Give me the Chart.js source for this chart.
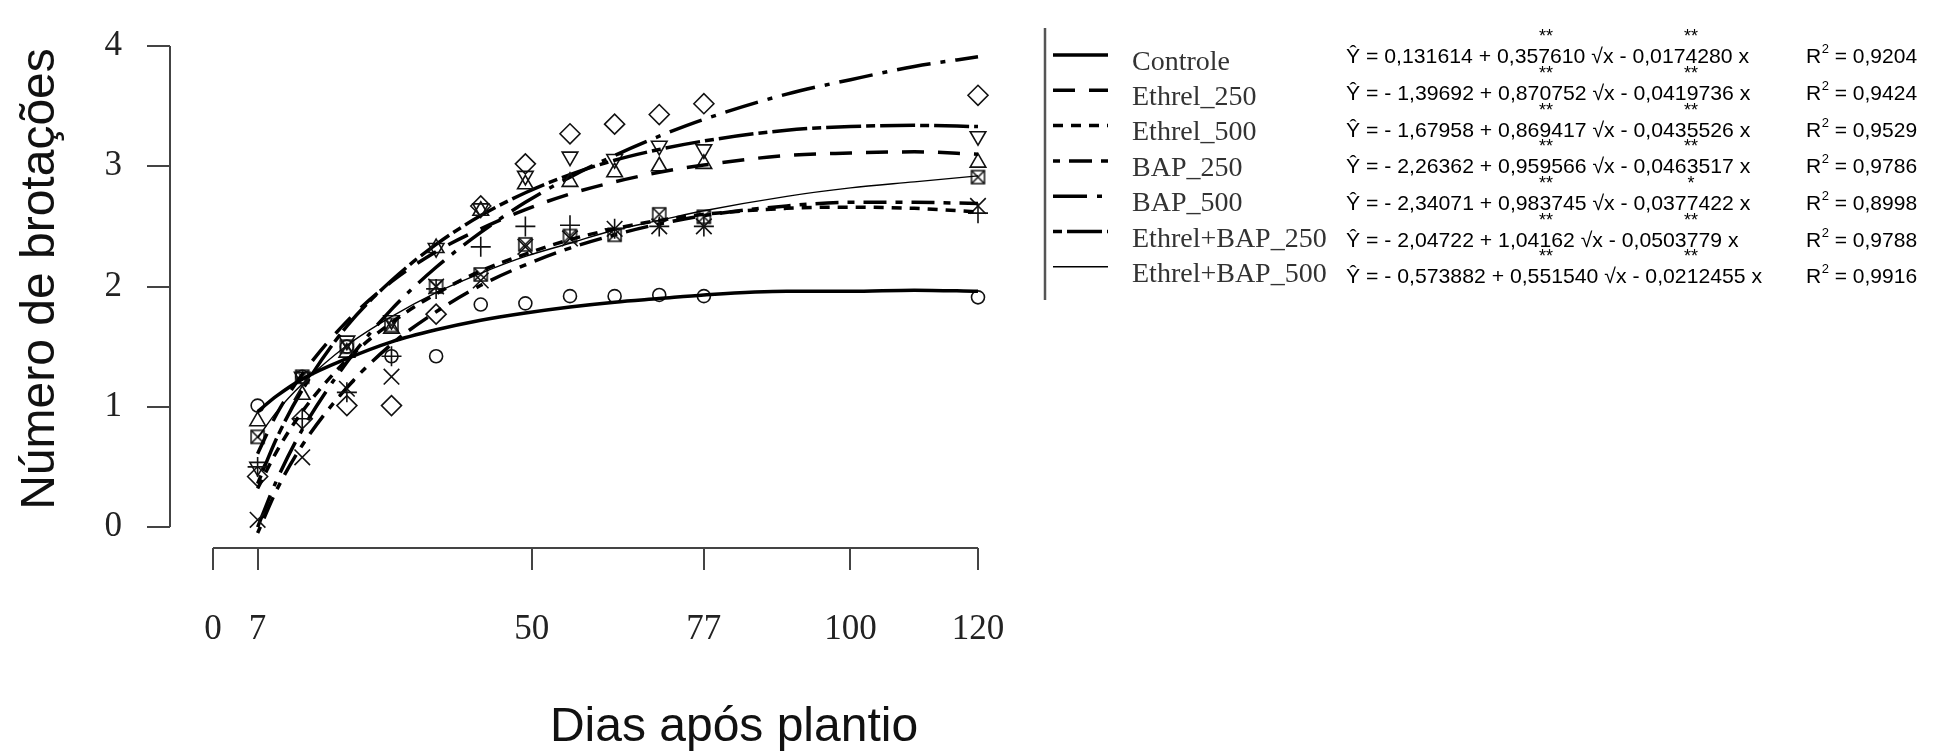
<!DOCTYPE html>
<html>
<head>
<meta charset="utf-8">
<title>Número de brotações</title>
<script src="https://cdn.jsdelivr.net/npm/chart.js@4.4.1/dist/chart.umd.min.js"></script>
<style>
  html, body { margin: 0; padding: 0; background: #fff; }
  canvas { display: block; }
</style>
</head>
<body>
<canvas id="chart" width="1939" height="755"></canvas>
<script>
const days = [7, 14, 21, 28, 35, 42, 49, 56, 63, 70, 77, 120];
const controle = [1.01, 1.25, 1.50, 1.42, 1.42, 1.85, 1.86, 1.92, 1.92, 1.93, 1.92, 1.91];
const ethrel250 = [0.88, 1.10, 1.45, 1.65, 2.32, 2.63, 2.85, 2.87, 2.95, 3.00, 3.02, 3.03];
const ethrel500 = [0.50, 0.90, 1.12, 1.42, 1.98, 2.33, 2.50, 2.51, 2.48, 2.50, 2.50, 2.61];
const bap250 = [0.06, 0.58, 1.15, 1.25, 2.00, 2.05, 2.33, 2.40, 2.48, 2.50, 2.50, 2.67];
const bap500 = [0.42, 0.90, 1.01, 1.01, 1.77, 2.67, 3.02, 3.27, 3.35, 3.43, 3.52, 3.59];
const ethrelBap250 = [0.50, 1.25, 1.55, 1.72, 2.32, 2.65, 2.92, 3.08, 3.06, 3.17, 3.14, 3.25];
const ethrelBap500 = [0.75, 1.25, 1.50, 1.68, 2.00, 2.10, 2.35, 2.42, 2.43, 2.60, 2.58, 2.91];

// fitted curves
const fitDays = [7, 10, 14, 21, 28, 35, 42, 49, 56, 63, 70, 77, 90, 100, 110, 120];
const fitControle = [0.96, 1.09, 1.23, 1.40, 1.54, 1.64, 1.72, 1.78, 1.83, 1.87, 1.90, 1.93, 1.96, 1.96, 1.97, 1.96];
const fitEthrel250 = [0.61, 0.94, 1.27, 1.71, 2.04, 2.29, 2.48, 2.64, 2.77, 2.87, 2.95, 3.01, 3.09, 3.11, 3.12, 3.10];
const fitEthrel500 = [0.32, 0.63, 0.96, 1.39, 1.70, 1.94, 2.13, 2.27, 2.39, 2.48, 2.55, 2.60, 2.65, 2.66, 2.65, 2.62];
const fitBap250 = [-0.05, 0.31, 0.68, 1.16, 1.52, 1.79, 2.01, 2.18, 2.32, 2.43, 2.52, 2.59, 2.67, 2.70, 2.70, 2.69];
const fitBap500 = [0.00, 0.39, 0.81, 1.37, 1.81, 2.16, 2.45, 2.70, 2.91, 3.09, 3.25, 3.39, 3.60, 3.72, 3.83, 3.91];
const fitEthrelBap250 = [0.36, 0.74, 1.14, 1.67, 2.05, 2.35, 2.59, 2.78, 2.93, 3.05, 3.14, 3.21, 3.30, 3.33, 3.34, 3.33];
const fitEthrelBap500 = [0.74, 0.96, 1.19, 1.51, 1.75, 1.95, 2.11, 2.25, 2.36, 2.47, 2.55, 2.63, 2.75, 2.82, 2.87, 2.92];

const xTicks = [0, 7, 50, 77, 100, 120];
const yTicks = [0, 1, 2, 3, 4];

const labels = ["Controle", "Ethrel_250", "Ethrel_500", "BAP_250", "BAP_500", "Ethrel+BAP_250", "Ethrel+BAP_500"];
const equations = [
  "Ŷ = 0,131614 + 0,357610 √x - 0,0174280 x",
  "Ŷ = - 1,39692 + 0,870752 √x - 0,0419736 x",
  "Ŷ = - 1,67958 + 0,869417 √x - 0,0435526 x",
  "Ŷ = - 2,26362 + 0,959566 √x - 0,0463517 x",
  "Ŷ = - 2,34071 + 0,983745 √x - 0,0377422 x",
  "Ŷ = - 2,04722 + 1,04162 √x - 0,0503779 x",
  "Ŷ = - 0,573882 + 0,551540 √x - 0,0212455 x"
];
const stars = [["**", "**"], ["**", "**"], ["**", "**"], ["**", "**"], ["**", "*"], ["**", "**"], ["**", "**"]];
const r2 = ["0,9204", "0,9424", "0,9529", "0,9786", "0,8998", "0,9788", "0,9916"];

// square with an x inside (R pch 7)
function boxX(size) {
  const c = document.createElement("canvas");
  c.width = size; c.height = size;
  const g = c.getContext("2d");
  g.strokeStyle = "#111";
  g.lineWidth = 1.5;
  g.strokeRect(2, 2, size - 4, size - 4);
  g.beginPath();
  g.moveTo(2, 2); g.lineTo(size - 2, size - 2);
  g.moveTo(size - 2, 2); g.lineTo(2, size - 2);
  g.stroke();
  return c;
}

const series = [
  { obs: controle, fit: fitControle, dash: [], width: 3.5, point: "circle", radius: 6.5, rot: 0 },
  { obs: ethrel250, fit: fitEthrel250, dash: [22, 14], width: 3.5, point: "triangle", radius: 9, rot: 0 },
  { obs: ethrel500, fit: fitEthrel500, dash: [10, 8], width: 3.5, point: "cross", radius: 10, rot: 0 },
  { obs: bap250, fit: fitBap250, dash: [7, 9, 23, 9], width: 3.5, point: "crossRot", radius: 11, rot: 0 },
  { obs: bap500, fit: fitBap500, dash: [34, 10, 5, 10], width: 3.5, point: "rectRot", radius: 10, rot: 0 },
  { obs: ethrelBap250, fit: fitEthrelBap250, dash: [9, 5, 35, 5], width: 3.5, point: "triangle", radius: 9, rot: 180 },
  { obs: ethrelBap500, fit: fitEthrelBap500, dash: [], width: 1.4, point: boxX(17), radius: 8, rot: 0 }
];

function toXY(xs, ys) {
  return xs.map((x, i) => ({ x: x, y: ys[i] }));
}

const datasets = [];
series.forEach((s, i) => {
  datasets.push({
    label: labels[i],
    data: toXY(fitDays, s.fit),
    showLine: true,
    borderColor: "#000",
    borderWidth: s.width,
    borderDash: s.dash,
    cubicInterpolationMode: "monotone",
    pointRadius: 0,
    pointHoverRadius: 0
  });
  datasets.push({
    label: labels[i] + " obs",
    data: toXY(days, s.obs),
    showLine: false,
    pointStyle: s.point,
    pointRadius: s.radius,
    pointRotation: s.rot,
    pointBorderColor: "#111",
    pointBackgroundColor: "rgba(0,0,0,0)",
    pointBorderWidth: 1.6
  });
});

function drawText(ctx, str, x, y, font, sx, align, color) {
  ctx.save();
  ctx.translate(x, y);
  ctx.scale(sx, 1);
  ctx.font = font;
  ctx.textAlign = align || "left";
  ctx.textBaseline = "alphabetic";
  ctx.fillStyle = color || "#000";
  ctx.fillText(str, 0, 0);
  ctx.restore();
}

const decorations = {
  id: "decorations",
  afterDraw(chart) {
    const ctx = chart.ctx;
    const xs = chart.scales.x;
    const ys = chart.scales.y;
    const area = chart.chartArea;
    ctx.save();

    // detached axis lines
    ctx.strokeStyle = "#444";
    ctx.lineWidth = 2;
    ctx.setLineDash([]);
    ctx.beginPath();
    ctx.moveTo(area.left, ys.getPixelForValue(yTicks[0]));
    ctx.lineTo(area.left, ys.getPixelForValue(yTicks[yTicks.length - 1]));
    ctx.moveTo(xs.getPixelForValue(xTicks[0]), area.bottom);
    ctx.lineTo(xs.getPixelForValue(xTicks[xTicks.length - 1]), area.bottom);
    ctx.stroke();

    // axis titles
    drawText(ctx, "Dias após plantio", 734, 741, "48px 'Liberation Sans', Arial, sans-serif", 1, "center", "#111");
    ctx.save();
    ctx.translate(54, 279);
    ctx.rotate(-Math.PI / 2);
    drawText(ctx, "Número de brotações", 0, 0, "48px 'Liberation Sans', Arial, sans-serif", 1, "center", "#111");
    ctx.restore();

    // legend frame
    ctx.strokeStyle = "#555";
    ctx.lineWidth = 2.5;
    ctx.beginPath();
    ctx.moveTo(1045, 28);
    ctx.lineTo(1045, 300);
    ctx.stroke();

    series.forEach((s, i) => {
      const ly = 55 + i * 35.3;
      ctx.strokeStyle = "#000";
      ctx.lineWidth = s.width;
      ctx.setLineDash(s.dash);
      ctx.beginPath();
      ctx.moveTo(1053, ly);
      ctx.lineTo(1108, ly);
      ctx.stroke();
      ctx.setLineDash([]);

      drawText(ctx, labels[i], 1132, 69.5 + i * 35.4, "28px 'Liberation Serif', 'Times New Roman', serif", 1, "left", "#333");

      const ey = 63.3 + i * 36.67;
      drawText(ctx, equations[i], 1346, ey, "21px 'Liberation Sans', Arial, sans-serif", 1.01, "left", "#000");
      drawText(ctx, stars[i][0], 1546, ey - 21, "18px 'Liberation Sans', Arial, sans-serif", 1, "center", "#000");
      drawText(ctx, stars[i][1], 1691, ey - 21, "18px 'Liberation Sans', Arial, sans-serif", 1, "center", "#000");

      // R² = value
      ctx.font = "21px 'Liberation Sans', Arial, sans-serif";
      const rx = 1806;
      const rw = ctx.measureText("R").width;
      drawText(ctx, "R", rx, ey, "21px 'Liberation Sans', Arial, sans-serif", 1, "left", "#000");
      drawText(ctx, "2", rx + rw + 0.5, ey - 10, "13px 'Liberation Sans', Arial, sans-serif", 1, "left", "#000");
      ctx.font = "13px 'Liberation Sans', Arial, sans-serif";
      const sw = ctx.measureText("2").width;
      drawText(ctx, " = " + r2[i], rx + rw + 0.5 + sw, ey, "21px 'Liberation Sans', Arial, sans-serif", 1, "left", "#000");
    });

    ctx.restore();
  }
};

const ctx = document.getElementById("chart").getContext("2d");
new Chart(ctx, {
  type: "scatter",
  data: { datasets: datasets },
  plugins: [decorations],
  options: {
    responsive: false,
    animation: false,
    events: [],
    layout: { padding: { top: 21, right: 929, bottom: 0, left: 0 } },
    plugins: {
      legend: { display: false },
      tooltip: { enabled: false }
    },
    scales: {
      x: {
        type: "linear",
        min: -6.745,
        max: 125.02,
        afterBuildTicks: (scale) => { scale.ticks = xTicks.map((v) => ({ value: v })); },
        afterFit: (scale) => { scale.height = 207; },
        grid: { drawOnChartArea: false, drawTicks: true, tickLength: 22, color: "#444", lineWidth: 2 },
        border: { display: false },
        ticks: {
          autoSkip: false,
          maxRotation: 0,
          minRotation: 0,
          padding: 39,
          color: "#222",
          font: { family: "'Liberation Serif', 'Times New Roman', serif", size: 35 }
        }
      },
      y: {
        type: "linear",
        min: -0.1743,
        max: 4,
        afterBuildTicks: (scale) => { scale.ticks = yTicks.map((v) => ({ value: v })); },
        afterFit: (scale) => { scale.width = 170; },
        grid: { drawOnChartArea: false, drawTicks: true, tickLength: 23, color: "#444", lineWidth: 2 },
        border: { display: false },
        ticks: {
          padding: 25,
          color: "#222",
          font: { family: "'Liberation Serif', 'Times New Roman', serif", size: 35 }
        }
      }
    }
  }
});
</script>
</body>
</html>
